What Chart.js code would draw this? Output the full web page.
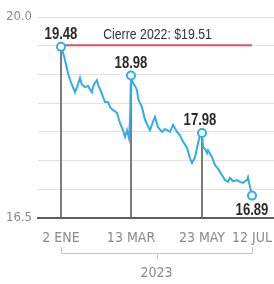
<!DOCTYPE html>
<html>
<head>
<meta charset="utf-8">
<script src="https://cdn.jsdelivr.net/npm/chart.js@4.4.0/dist/chart.umd.min.js"></script>
<style>
html,body{margin:0;padding:0;background:#fff;}
canvas{display:block;}
</style>
</head>
<body>
<canvas id="c" width="274" height="284"></canvas>
<script>
// Days counted from 2 Jan 2023
const days = [0,2,4,7,10,14,16,19,21,24,27,29,31,32,34,36,37,40,42,44,47,49,52,56,59,62,64,66,68,69,70,72,74,76,77,79,81,84,87,89,92,94,97,101,104,106,109,112,116,119,121,126,129,131,134,137,139,141,142,144,146,147,151,154,157,159,162,164,167,169,172,176,179,182,184,186,187,189,191];
const values = [19.48,19.38,19.25,19.02,18.86,18.69,18.78,18.94,18.82,18.78,18.80,18.74,18.69,18.78,18.86,18.90,18.82,18.70,18.61,18.52,18.52,18.43,18.38,18.33,18.15,18.03,17.91,18.03,17.89,18.20,18.98,18.85,18.80,18.73,18.59,18.50,18.43,18.21,18.10,18.03,18.18,18.26,18.08,18.00,18.05,18.03,18.00,18.12,18.00,17.94,17.86,17.72,17.54,17.46,17.56,17.80,17.94,17.98,17.74,17.70,17.63,17.68,17.56,17.42,17.36,17.30,17.22,17.16,17.13,17.20,17.14,17.16,17.13,17.11,17.14,17.16,17.21,17.04,16.89];
const keyDays = [0,70,141,191];
const keyValues = [19.48,18.98,17.98,16.89];
const keyLabels = ['19.48','18.98','17.98','16.89'];
const close2022 = 19.51;
const close2022Label = 'Cierre 2022: $19.51';
const tickDays = [0,70,141,191];
const tickLabels = ['2 ENE','13 MAR','23 MAY','12 JUL'];
const yearLabel = '2023';
const yMin = 16.5, yMax = 20.0;

const AXFONT = "'DejaVu Sans Condensed','Liberation Sans Narrow',sans-serif";
const NFONT = "'Liberation Sans',Arial,sans-serif";
const NARROW = 0.82;
const BLUE = '#33aee3';

const series = days.map((d,i)=>({x:d,y:values[i]}));
const markers = keyDays.map((d,i)=>({x:d,y:keyValues[i]}));
const droplines = keyDays.slice(0,3).map((d,i)=>({
  type:'line', data:[{x:d,y:keyValues[i]},{x:d,y:yMin}],
  borderColor:'#6b6b6b', borderWidth:1, pointRadius:0, order:4
}));

function narrowText(ctx, text, x, y){
  ctx.save();
  ctx.translate(x, y);
  ctx.scale(NARROW, 1);
  ctx.fillText(text, 0, 0);
  ctx.restore();
}

const annot = {
  id:'annot',
  afterDatasetsDraw(chart){
    const ctx = chart.ctx, xs = chart.scales.x, ys = chart.scales.y;
    ctx.save();
    ctx.textAlign = 'center';
    ctx.textBaseline = 'middle';
    ctx.font = "bold 16px " + NFONT;
    ctx.fillStyle = '#2b2b2b';
    keyDays.forEach((d,i)=>{
      const px = xs.getPixelForValue(d), py = ys.getPixelForValue(keyValues[i]);
      const off = i === keyDays.length-1 ? 15 : -12;
      narrowText(ctx, keyLabels[i], px + (i===2?-2:0), py + off);
    });
    ctx.font = "15px " + NFONT;
    ctx.fillStyle = '#333';
    const x0 = xs.getPixelForValue(keyDays[0]), x1 = xs.getPixelForValue(keyDays[3]);
    narrowText(ctx, close2022Label, (x0+x1)/2 + 1, ys.getPixelForValue(close2022) - 10);
    // bracket
    const by = chart.chartArea.bottom + 35;
    ctx.strokeStyle = '#c4c4c4';
    ctx.lineWidth = 1;
    ctx.beginPath();
    ctx.moveTo(Math.round(x0)+0.5, by-6); ctx.lineTo(Math.round(x0)+0.5, by+0.5);
    ctx.lineTo(Math.round(x1)+0.5, by+0.5); ctx.lineTo(Math.round(x1)+0.5, by-6);
    const mx = Math.round((x0+x1)/2)+0.5;
    ctx.moveTo(mx, by); ctx.lineTo(mx, by+6);
    ctx.stroke();
    ctx.font = "14px " + AXFONT;
    ctx.fillStyle = '#8a8a8a';
    ctx.fillText(yearLabel, (x0+x1)/2, by + 20);
    ctx.restore();
  }
};

new Chart(document.getElementById('c'), {
  type:'line',
  data:{
    datasets:[
      {data:markers, showLine:false, pointRadius:4, pointBorderWidth:2, pointBackgroundColor:'#fff', pointBorderColor:BLUE, order:0},
      {data:series, borderColor:BLUE, borderWidth:2, pointRadius:0, tension:0, order:1},
      {data:[{x:keyDays[0],y:close2022},{x:keyDays[3],y:close2022}], borderColor:'#d9506a', borderWidth:2, pointRadius:0, order:2},
      ...droplines
    ]
  },
  options:{
    responsive:false, animation:false,
    layout:{autoPadding:false, padding:{top:17,left:0,right:0,bottom:0}},
    plugins:{legend:{display:false}, tooltip:{enabled:false}},
    scales:{
      x:{
        type:'linear', min:-23, max:213,
        afterFit(s){ s.height = 66; s.paddingLeft = 0; s.paddingRight = 0; },
        afterBuildTicks(s){ s.ticks = tickDays.map(v=>({value:v})); },
        grid:{display:false, drawTicks:false},
        border:{display:true, color:'#5e5e5e', width:2},
        ticks:{autoSkip:false, maxRotation:0, padding:12, color:'#8a8a8a',
          font:{family:AXFONT, size:14},
          callback:(v)=>{ const i = tickDays.indexOf(v); return i>=0 ? tickLabels[i] : ''; }}
      },
      y:{
        min:yMin, max:yMax,
        afterFit(s){ s.width = 38; },
        grid:{drawTicks:false, color:(c)=> c.tick && c.tick.value === yMin ? 'rgba(0,0,0,0)' : '#e2e2e2', lineWidth:1},
        border:{display:false},
        ticks:{stepSize:0.5, padding:6, color:'#8a8a8a', font:{family:AXFONT, size:13},
          callback:(v)=> (v===yMax||v===yMin) ? v.toFixed(1) : ''}
      }
    }
  },
  plugins:[annot]
});
</script>
</body>
</html>
